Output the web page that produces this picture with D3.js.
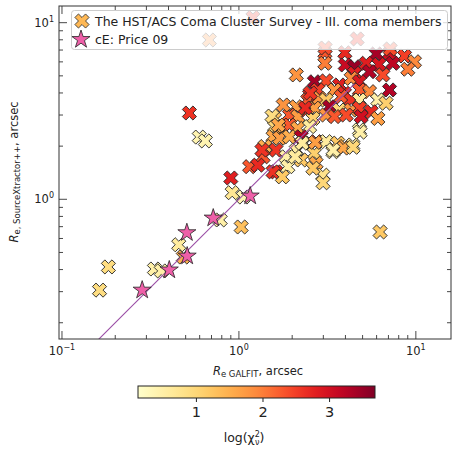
<!DOCTYPE html>
<html>
<head>
<meta charset="utf-8">
<script src="https://cdn.jsdelivr.net/npm/d3@7"></script>
<style>
  body { margin: 0; background: #fff; }
  svg { font-family: "DejaVu Sans", sans-serif; }
</style>
</head>
<body>
<div id="chart"></div>
<script>
// Coma cluster members: GALFIT Re, SourceXtractor++ Re (arcsec), log(chi2_nu)
const comaX = [3.06, 3.97, 5.97, 7.10, 8.63, 9.82, 3.06, 3.99, 4.50, 5.24, 6.18, 7.41, 9.01, 6.51, 2.11, 4.50, 5.47,
    2.67, 3.11, 3.70, 4.31, 4.80, 2.51, 2.79, 3.47, 3.95, 4.80, 5.47, 7.10, 2.45, 2.85, 3.11, 3.78, 4.31, 4.80, 6.10,
    6.79, 2.11, 2.40, 2.67, 3.25, 3.70, 4.31, 4.80, 5.59, 1.59, 1.93, 2.15, 2.62, 3.11, 3.47, 4.04, 4.91, 6.10, 1.59,
    1.73, 1.93, 2.15, 2.51, 4.80, 1.56, 1.70, 1.93, 2.25, 2.73, 3.11, 3.62, 3.95, 4.40, 2.32, 1.40, 1.62, 2.11, 2.67,
    3.40, 1.37, 1.85, 2.25, 2.73, 1.15, 1.28, 1.62, 1.89, 2.98, 2.62, 0.90, 1.54, 1.67, 1.78, 2.37, 2.53, 1.35, 1.56,
    1.76, 2.08, 2.28, 2.70, 2.99, 4.84, 3.88, 4.42, 3.41, 0.163, 0.183, 0.333, 0.364, 0.457, 0.485, 0.784, 0.916, 1.06,
    1.03, 6.28, 0.525, 0.597, 0.646, 0.681, 1.20, 4.66, 3.07, 7.16];
const comaY = [6.76, 6.76, 6.65, 6.71, 6.48, 6.01, 5.89, 5.76, 5.63, 5.89, 5.81, 5.89, 5.45, 5.06, 5.06, 5.17, 5.28,
    4.63, 4.68, 4.44, 4.84, 4.63, 3.90, 4.16, 4.16, 3.98, 4.16, 4.07, 4.16, 3.65, 3.73, 3.65, 3.81, 3.65, 3.65, 3.65,
    3.50, 3.34, 3.20, 3.28, 3.34, 3.20, 3.20, 3.28, 3.13, 2.87, 3.00, 2.94, 2.87, 3.00, 2.94, 3.00, 2.94, 2.87, 2.58,
    2.52, 2.63, 2.52, 2.58, 2.47, 2.26, 2.22, 2.26, 2.26, 2.12, 2.12, 2.08, 1.99, 2.03, 2.08, 1.99, 1.90, 1.90, 1.82,
    1.86, 1.74, 1.74, 1.67, 1.60, 1.53, 1.56, 1.43, 1.53, 1.37, 1.50, 1.32, 2.96, 2.63, 3.42, 3.29, 4.00, 1.90, 1.43,
    1.34, 1.74, 2.08, 2.10, 1.24, 2.40, 1.95, 1.97, 1.90, 0.306, 0.414, 0.403, 0.393, 0.553, 0.471, 0.764, 1.09, 1.03,
    0.697, 0.653, 3.08, 2.25, 2.14, 7.98, 10.7, 8.09, 7.19, 7.10];
const comaChi = [2.3, 2.7, 3.4, 3.0, 2.5, 1.9, 2.0, 3.1, 3.5, 2.8, 2.9, 3.2, 2.0, 2.4, 1.8, 2.8, 3.3,
    3.4, 2.4, 2.8, 1.9, 2.9, 2.7, 2.5, 1.8, 2.7, 2.3, 1.9, 3.3, 2.3, 1.8, 1.2, 2.3, 2.6, 0.6, 0.5,
    1.1, 1.7, 2.7, 1.7, 3.4, 1.0, 1.8, 2.5, 2.7, 1.3, 2.3, 1.7, 1.1, 1.8, 2.3, 2.4, 3.0, 1.7, 1.0,
    1.6, 2.3, 1.6, 0.6, 0.5, 1.6, 1.7, 1.5, 3.3, 2.3, 0.6, 1.2, 1.6, 0.6, 0.6, 1.5, 2.6, 0.6, 1.1,
    0.6, 2.3, 0.5, 1.2, 1.6, 2.3, 2.7, 2.7, 0.5, 0.8, 1.2, 2.8, 0.9, 1.6, 1.8, 2.7, 2.6, 2.6, 2.6,
    1.2, 0.6, 0.6, 1.7, 1.0, 0.5, 1.6, 1.0, 0.5, 0.9, 0.9, 0.5, 0.5, 0.6, 1.5, 0.5, 0.7, 0.4,
    1.3, 1.2, 2.6, 0.4, 0.4, 1.8, 2.6, 2.6, 2.4, 2.4];

// compact ellipticals (Price et al. 2009)
const cEX = [0.284, 0.404, 0.510, 0.508, 0.716, 1.158];
const cEY = [0.306, 0.398, 0.477, 0.647, 0.783, 1.044];

// one-to-one reference line
const lineX = [0.1, 4.5];

const chiRange = [0.13, 3.69];
const cbarTicks = [1, 2, 3];
const legendLabels = ["The HST/ACS Coma Cluster Survey - III. coma members", "cE: Price 09"];

class ScatterPlot {
    constructor(_parentElement) {
        this.parentElement = _parentElement;
        this.coma = comaX.map((d, i) => ({ x: d, y: comaY[i], c: comaChi[i] }));
        this.cE = cEX.map((d, i) => ({ x: d, y: cEY[i] }));
        this.initVis();
    }

    initVis() {
        const vis = this;

        vis.margin = { top: 6, right: 1, bottom: 110, left: 59 };
        vis.width = 452 - vis.margin.left - vis.margin.right;
        vis.height = 449 - vis.margin.top - vis.margin.bottom;

        vis.root = d3.select(vis.parentElement).append("svg")
            .attr("width", 452)
            .attr("height", 449);

        vis.root.append("defs").append("clipPath")
            .attr("id", "clip")
            .append("rect")
            .attr("width", vis.width)
            .attr("height", vis.height);

        vis.svg = vis.root.append("g")
            .attr("transform", `translate(${vis.margin.left}, ${vis.margin.top})`);

        vis.x = d3.scaleLog()
            .domain([0.0962, 15.8])
            .range([0, vis.width]);

        vis.y = d3.scaleLog()
            .domain([0.1618, 12.43])
            .range([vis.height, 0]);

        vis.color = d3.scaleSequential(d3.interpolateYlOrRd)
            .domain(chiRange);

        vis.updateVis();
    }

    // matplotlib-like filled "X" marker
    crossPath(s) {
        const pts = [[-1, -3], [-1, -1], [-3, -1], [-3, 1], [-1, 1], [-1, 3], [1, 3], [1, 1], [3, 1], [3, -1], [1, -1], [1, -3]];
        const k = s / 6 / Math.SQRT2;
        return "M" + pts.map(p => [(p[0] - p[1]) * k, (p[0] + p[1]) * k].map(v => v.toFixed(2)).join(",")).join("L") + "Z";
    }

    starPath(r) {
        const ri = r * 0.382;
        const pts = d3.range(10).map(i => {
            const a = -Math.PI / 2 + i * Math.PI / 5;
            const rr = i % 2 ? ri : r;
            return [rr * Math.cos(a), rr * Math.sin(a)];
        });
        return "M" + pts.map(p => p.map(v => v.toFixed(2)).join(",")).join("L") + "Z";
    }

    updateVis() {
        const vis = this;
        const axisColor = "#333";

        const plot = vis.svg.append("g").attr("clip-path", "url(#clip)");

        plot.selectAll(".coma")
            .data(vis.coma)
            .enter().append("path")
            .attr("class", "coma")
            .attr("d", vis.crossPath(15))
            .attr("transform", d => `translate(${vis.x(d.x)},${vis.y(d.y)})`)
            .attr("fill", d => vis.color(d.c))
            .attr("stroke", "#222")
            .attr("stroke-width", 0.9);

        plot.append("line")
            .attr("x1", vis.x(lineX[0])).attr("y1", vis.y(lineX[0]))
            .attr("x2", vis.x(lineX[1])).attr("y2", vis.y(lineX[1]))
            .attr("stroke", "#9b4fa6")
            .attr("stroke-width", 1.1);

        plot.selectAll(".ce")
            .data(vis.cE)
            .enter().append("path")
            .attr("class", "ce")
            .attr("d", vis.starPath(9.5))
            .attr("transform", d => `translate(${vis.x(d.x)},${vis.y(d.y)})`)
            .attr("fill", "#ee5fa8")
            .attr("stroke", "#222")
            .attr("stroke-width", 0.8);

        // ticks on all four sides, pointing inward
        const majors = [0.1, 1, 10];
        const minors = [];
        [0.1, 1, 10].forEach(b => d3.range(2, 10).forEach(m => minors.push(b * m)));
        const xMin = minors.filter(v => v > 0.0962 && v < 15.8);
        const yMin = minors.filter(v => v > 0.1618 && v < 12.43);
        const yMaj = [1, 10];

        const ticks = vis.svg.append("g").attr("stroke", axisColor).attr("stroke-width", 0.9);
        const addX = (vals, len) => {
            ticks.selectAll(null).data(vals).enter().append("line")
                .attr("x1", d => vis.x(d)).attr("x2", d => vis.x(d))
                .attr("y1", vis.height).attr("y2", vis.height - len);
            ticks.selectAll(null).data(vals).enter().append("line")
                .attr("x1", d => vis.x(d)).attr("x2", d => vis.x(d))
                .attr("y1", 0).attr("y2", len);
        };
        const addY = (vals, len) => {
            ticks.selectAll(null).data(vals).enter().append("line")
                .attr("y1", d => vis.y(d)).attr("y2", d => vis.y(d))
                .attr("x1", 0).attr("x2", len);
            ticks.selectAll(null).data(vals).enter().append("line")
                .attr("y1", d => vis.y(d)).attr("y2", d => vis.y(d))
                .attr("x1", vis.width).attr("x2", vis.width - len);
        };
        addX(majors, 8); addX(xMin, 4);
        addY(yMaj, 8); addY(yMin, 4);

        vis.svg.append("rect")
            .attr("width", vis.width).attr("height", vis.height)
            .attr("fill", "none").attr("stroke", axisColor).attr("stroke-width", 1);

        // tick labels
        const exps = { 0.1: "\u22121", 1: "0", 10: "1" };
        const xl = vis.svg.append("g").attr("font-size", 11.5).attr("fill", "#222");
        majors.forEach(v => {
            const t = xl.append("text")
                .attr("x", vis.x(v)).attr("y", vis.height + 16)
                .attr("text-anchor", "middle");
            t.append("tspan").text("10");
            t.append("tspan").attr("font-size", 8).attr("dy", -5).text(exps[v]);
        });
        yMaj.forEach(v => {
            const t = xl.append("text")
                .attr("x", -5).attr("y", vis.y(v) + 4)
                .attr("text-anchor", "end");
            t.append("tspan").text("10");
            t.append("tspan").attr("font-size", 8).attr("dy", -5).text(exps[v]);
        });

        // axis labels
        const xLab = vis.svg.append("text")
            .attr("x", vis.width / 2 + 3).attr("y", vis.height + 36)
            .attr("text-anchor", "middle").attr("font-size", 11.5).attr("fill", "#222");
        xLab.append("tspan").attr("font-style", "italic").text("R");
        xLab.append("tspan").attr("font-size", 8.5).attr("dy", 2).text("e GALFIT");
        xLab.append("tspan").attr("dy", -2).text(", arcsec");

        const yLab = vis.root.append("text")
            .attr("transform", "translate(18,172) rotate(-90)")
            .attr("text-anchor", "middle").attr("font-size", 11.5).attr("fill", "#222");
        yLab.append("tspan").attr("font-style", "italic").text("R");
        yLab.append("tspan").attr("font-size", 8.5).attr("dy", 2).text("e, SourceXtractor++");
        yLab.append("tspan").attr("dy", -2).text(", arcsec");

        // legend
        const lg = vis.root.append("g");
        lg.append("rect")
            .attr("x", 71.5).attr("y", 10.5).attr("width", 376).attr("height", 39).attr("rx", 3)
            .attr("fill", "#fff").attr("fill-opacity", 0.8)
            .attr("stroke", "#ccc").attr("stroke-width", 1);
        lg.append("path").attr("d", vis.crossPath(15))
            .attr("transform", "translate(82,21)")
            .attr("fill", vis.color(1.4)).attr("stroke", "#222").attr("stroke-width", 0.8);
        lg.append("path").attr("d", vis.starPath(9.5))
            .attr("transform", "translate(81,39.5)")
            .attr("fill", "#ee5fa8").attr("stroke", "#222").attr("stroke-width", 0.8);
        lg.selectAll(".lgt").data(legendLabels).enter().append("text")
            .attr("class", "lgt")
            .attr("x", 95).attr("y", (d, i) => 25.5 + i * 18.5)
            .attr("font-size", 12.5).attr("fill", "#222")
            .text(d => d);

        // colorbar
        const cb = { x: 138, y: 386, w: 237, h: 12 };
        const cx = d3.scaleLinear().domain(chiRange).range([cb.x, cb.x + cb.w]);
        const grad = vis.root.select("defs").append("linearGradient").attr("id", "cbgrad");
        d3.range(0, 1.0001, 0.05).forEach(t => {
            grad.append("stop").attr("offset", t)
                .attr("stop-color", vis.color(chiRange[0] + t * (chiRange[1] - chiRange[0])));
        });
        vis.root.append("rect")
            .attr("x", cb.x).attr("y", cb.y).attr("width", cb.w).attr("height", cb.h)
            .attr("fill", "url(#cbgrad)").attr("stroke", "#222").attr("stroke-width", 1);
        const cbAxis = d3.axisBottom(cx).tickValues(cbarTicks).tickFormat(d3.format("d")).tickSize(4).tickPadding(5);
        const cbg = vis.root.append("g")
            .attr("transform", `translate(0,${cb.y + cb.h})`)
            .call(cbAxis);
        cbg.select(".domain").remove();
        cbg.selectAll("text").attr("font-size", 14.5).attr("fill", "#222").attr("font-family", "DejaVu Sans");
        cbg.selectAll("line").attr("stroke", "#222");

        const cl = vis.root.append("text")
            .attr("x", 244).attr("y", 442)
            .attr("text-anchor", "middle").attr("font-size", 12.5).attr("fill", "#222");
        cl.append("tspan").text("log(\u03c7");
        cl.append("tspan").attr("font-size", 8).attr("dy", -5).text("2");
        cl.append("tspan").attr("font-size", 8).attr("dx", -5).attr("dy", 8).text("\u03bd");
        cl.append("tspan").attr("dy", -3).text(")");
    }
}

new ScatterPlot("#chart");
</script>
</body>
</html>
